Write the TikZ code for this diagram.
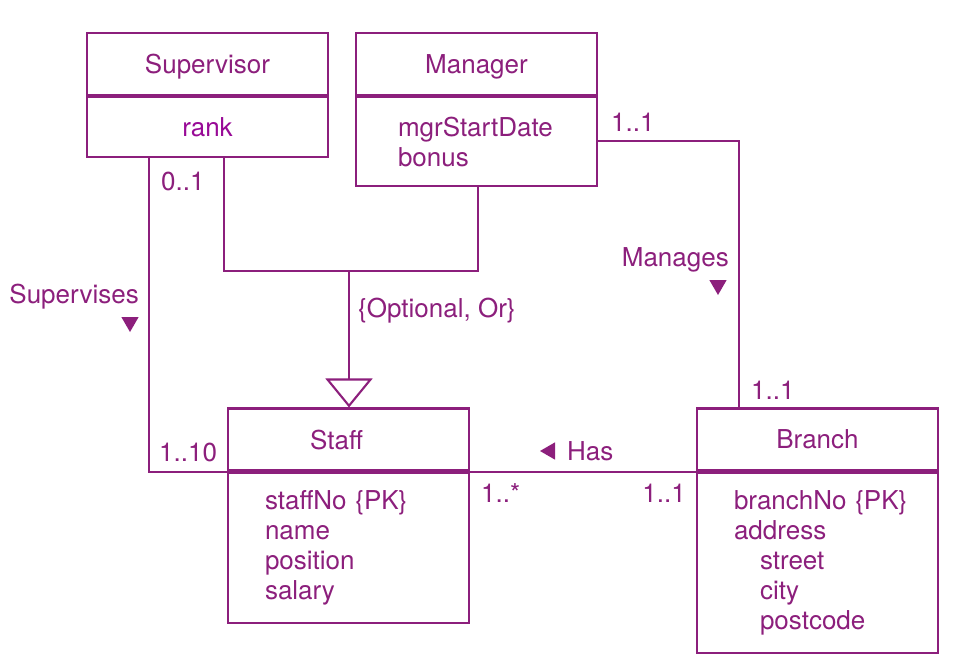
\documentclass[tikz,border=0pt]{standalone}
\usepackage{fontspec}
\setmainfont{TeX Gyre Heros}
\usetikzlibrary{positioning,arrows.meta,shapes.geometric}
\definecolor{upurple}{HTML}{8C1F7C}
\definecolor{urank}{HTML}{980A96}

\tikzset{
 classhead/.style={draw=upurple, line width=2.1pt, minimum width=241pt, minimum height=62pt, inner sep=0pt, text depth=0pt, text=upurple},
 classbody/.style={draw=upurple, line width=2.1pt, minimum width=241pt, anchor=north, align=left, text width=167pt, inner xsep=37pt, inner ysep=0pt, text=upurple},
 lbl/.style={inner sep=0pt, text=upurple},
 dirmark/.style={regular polygon, regular polygon sides=3, fill=upurple, minimum size=20pt, inner sep=0pt},
 link/.style={draw=upurple, line width=2.1pt}
}

\begin{document}
\begin{tikzpicture}[x=1pt, y=-1pt, font=\fontsize{26}{30}\selectfont]
 \useasboundingbox (0,0) rectangle (960,660);
 % classes
 \node[classhead] (suphead) at (207.5,64) {Supervisor};
 \node[classbody, minimum height=60pt, align=center, text=urank] (supbody) at (suphead.south) {rank};
 \node[classhead] (mgrhead) at (476.5,64) {Manager};
 \node[classbody, minimum height=89pt, inner xsep=42pt, text width=157pt] (mgrbody) at (mgrhead.south) {mgrStartDate\\bonus};
 \node[classhead] (stfhead) at (348.5,439.5) {Staff\hspace*{24pt}};
 \node[classbody, minimum height=150pt] (stfbody) at (stfhead.south) {staffNo~\{PK\}\\name\\position\\salary};
 \node[classhead] (brhead) at (817.5,439.5) {Branch};
 \node[classbody, minimum height=180pt] (brbody) at (brhead.south) {branchNo~\{PK\}\\address\\\hspace*{26pt}street\\\hspace*{26pt}city\\\hspace*{26pt}postcode};
 % generalization
 \coordinate (gen) at (349,271);
 \draw[link] ([xshift=138pt]supbody.south west) |- (gen) -| ([xshift=123pt]mgrbody.south west);
 \draw[link, -{Triangle[open, length=29pt, width=47pt, line width=2.1pt]}] (gen) -- (gen |- stfhead.north);
 \node[lbl, anchor=west] (genlbl) at (358,311) {\{Optional, Or\}};
 % Supervises
 \draw[link] ([xshift=63pt]supbody.south west) |- (stfhead.south west);
 \node[lbl, anchor=west] (supmult) at (161,181) {0..1};
 \node[lbl, anchor=west] (stfmultsup) at (159,452) {1..10};
 \node[lbl, anchor=east] (suplbl) at (139,297) {Supervises};
 \node[dirmark, shape border rotate=180] (supdir) at (130,322) {};
 % Manages
 \draw[link] ([yshift=-45pt]mgrbody.north east) -| ([xshift=43pt]brhead.north west);
 \node[lbl, anchor=west] (mgrmult) at (611,122) {1..1};
 \node[lbl, anchor=east] (mgrlbl) at (729,260) {Manages};
 \node[dirmark, shape border rotate=180] (mgrdir) at (718,285) {};
 \node[lbl, anchor=west] (brmultmgr) at (751,390) {1..1};
 % Has
 \draw[link] (stfhead.south east) -- (brhead.south west);
 \node[dirmark, shape border rotate=90] (hasdir) at (550,451) {};
 \node[lbl, anchor=west] (haslbl) at (567,451) {Has};
 \node[lbl, anchor=west] (stfmult) at (481,493) {1..*};
 \node[lbl, anchor=east] (brmult) at (686,493) {1..1};
\end{tikzpicture}
\end{document}
